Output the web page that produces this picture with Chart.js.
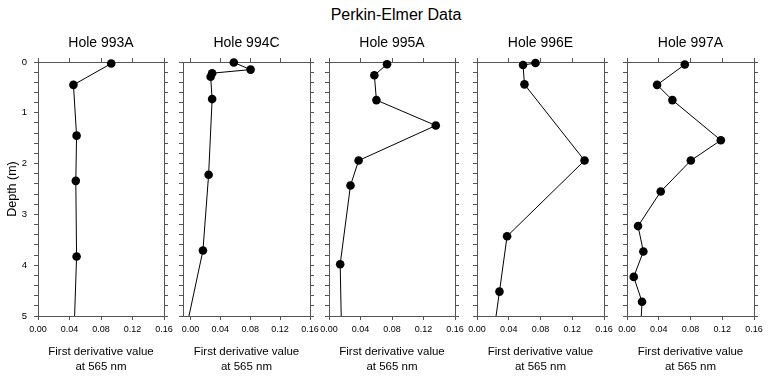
<!DOCTYPE html>
<html>
<head>
<meta charset="utf-8">
<script src="https://cdn.jsdelivr.net/npm/chart.js@4.4.0/dist/chart.umd.min.js"></script>
<style>
body{margin:0;background:#fff;width:771px;height:376px;overflow:hidden;position:relative;font-family:"Liberation Sans",Arial,sans-serif}
canvas{position:absolute;top:0}
#titulo{position:absolute;top:5px;left:0;width:792px;text-align:center;font-size:16px;line-height:20px;color:#000}
</style>
</head>
<body>
<div id="titulo">Perkin-Elmer Data</div>
<canvas id="g0"></canvas>
<canvas id="g1"></canvas>
<canvas id="g2"></canvas>
<canvas id="g3"></canvas>
<canvas id="g4"></canvas>
<script>
// valores (x = primera derivada, y = profundidad en m)
// el ultimo punto de cada serie es solo la continuacion de la linea hasta el borde, sin marcador
const holes = ["Hole 993A","Hole 994C","Hole 995A","Hole 996E","Hole 997A"];
const xTicks = [0.00,0.04,0.08,0.12,0.16];
const depthTicks = [0,1,2,3,4,5];

const depth993A = [0.03,0.45,1.45,2.34,3.83,5.0];
const value993A = [0.093,0.045,0.049,0.048,0.049,0.0465];

const depth994C = [0.01,0.15,0.22,0.29,0.73,2.22,3.71,5.0];
const value994C = [0.058,0.0805,0.029,0.027,0.029,0.0243,0.0167,-0.002];

const depth995A = [0.045,0.26,0.75,1.25,1.94,2.43,3.98,5.0];
const value995A = [0.0737,0.0576,0.0602,0.1356,0.0376,0.0273,0.0142,0.0155];

const depth996E = [0.02,0.06,0.44,1.94,3.43,4.52,5.0];
const value996E = [0.0737,0.058,0.0598,0.1355,0.0379,0.0283,0.024];

const depth997A = [0.05,0.45,0.75,1.54,1.94,2.55,3.23,3.73,4.23,4.72,5.0];
const value997A = [0.0728,0.0379,0.0572,0.1182,0.0804,0.0425,0.0139,0.0206,0.0085,0.0189,0.018];

const allDepths = [depth993A,depth994C,depth995A,depth996E,depth997A];
const allValues = [value993A,value994C,value995A,value996E,value997A];

// posicion de cada panel en la pagina
const plotLeft = [38,183,329,477,627];
const plotWidth = [126,127,126,127,127];
const xMin = [0,-0.01,0,0,0];

const LEFT = 38, RIGHT = 14, TOP = 62, BOTTOM = 60;
const gris = "#555";
const fuente = "'Liberation Sans', Arial, sans-serif";

document.addEventListener("DOMContentLoaded", function(){
    for (let i = 0; i < holes.length; i++) {
        grafica(i);
    }
});

// marcas menores cada 0.2 m (objetos nuevos para cada eje)
function marcasProfundidad(){
    let m = [];
    for (let k = 0; k <= 25; k++) m.push({value: k / 5});
    return m;
}

function marcasX(){
    return xTicks.map(function(v){ return {value: v}; });
}

function grafica(i){
    let canvas = document.getElementById("g" + i);
    canvas.width = LEFT + plotWidth[i] + RIGHT;
    canvas.height = 376;
    canvas.style.left = (plotLeft[i] - LEFT) + "px";

    let dep = allDepths[i], val = allValues[i];
    let puntos = dep.map(function(d, k){ return {x: val[k], y: d}; });
    let ultimo = puntos.length - 1;

    let gridOpts = {drawOnChartArea: false, drawTicks: true, tickLength: 4, color: gris, lineWidth: 1};
    let borde = {display: true, color: gris, width: 1};

    new Chart(canvas.getContext("2d"), {
        type: "scatter",
        data: {
            datasets: [{
                data: puntos,
                showLine: true,
                borderColor: "#000",
                borderWidth: 1,
                backgroundColor: "#000",
                pointBackgroundColor: "#000",
                pointBorderWidth: 0,
                pointRadius: function(c){ return c.dataIndex === ultimo ? 0 : 4.3; },
                pointHoverRadius: 0,
                clip: false,
                xAxisID: "x",
                yAxisID: "y"
            }]
        },
        options: {
            responsive: false,
            animation: false,
            events: [],
            layout: {padding: 0},
            plugins: {legend: {display: false}, title: {display: false}, tooltip: {enabled: false}},
            scales: {
                x: {
                    type: "linear", position: "bottom",
                    min: xMin[i], max: 0.16,
                    afterBuildTicks: function(s){ s.ticks = marcasX(); },
                    afterFit: function(s){ s.height = BOTTOM; },
                    grid: gridOpts, border: borde,
                    ticks: {
                        color: "#000", padding: 4, maxRotation: 0, autoSkip: false,
                        font: {family: fuente, size: 9},
                        callback: function(v){ return Number(v).toFixed(2); }
                    },
                    title: {
                        display: true, text: ["First derivative value","at 565 nm"],
                        color: "#000", font: {family: fuente, size: 11.5, lineHeight: 1.3},
                        padding: {top: 0, bottom: 1.6}
                    }
                },
                x2: {
                    type: "linear", position: "top",
                    min: xMin[i], max: 0.16,
                    afterBuildTicks: function(s){ s.ticks = marcasX(); },
                    afterFit: function(s){ s.height = TOP; },
                    grid: gridOpts, border: borde,
                    ticks: {display: false},
                    title: {
                        display: true, text: holes[i], color: "#000",
                        font: {family: fuente, size: 14, lineHeight: 1.2},
                        padding: {top: 34.3, bottom: 0}
                    }
                },
                y: {
                    type: "linear", position: "left", reverse: true,
                    min: 0, max: 5,
                    afterBuildTicks: function(s){ s.ticks = marcasProfundidad(); },
                    afterFit: function(s){ s.width = LEFT; },
                    grid: gridOpts, border: borde,
                    ticks: {
                        color: "#000", padding: 7, autoSkip: false,
                        font: {family: fuente, size: 9.5},
                        callback: function(v){
                            if (i !== 0) return "";
                            return depthTicks.indexOf(v) >= 0 ? String(v) : "";
                        }
                    },
                    title: {
                        display: i === 0, text: "Depth (m)", color: "#000",
                        font: {family: fuente, size: 12.5, lineHeight: 1.2},
                        padding: {top: 5, bottom: 0}
                    }
                },
                y2: {
                    type: "linear", position: "right", reverse: true,
                    min: 0, max: 5,
                    afterBuildTicks: function(s){ s.ticks = marcasProfundidad(); },
                    afterFit: function(s){ s.width = RIGHT; },
                    grid: gridOpts, border: borde,
                    ticks: {display: false}
                }
            }
        }
    });
}
</script>
</body>
</html>
